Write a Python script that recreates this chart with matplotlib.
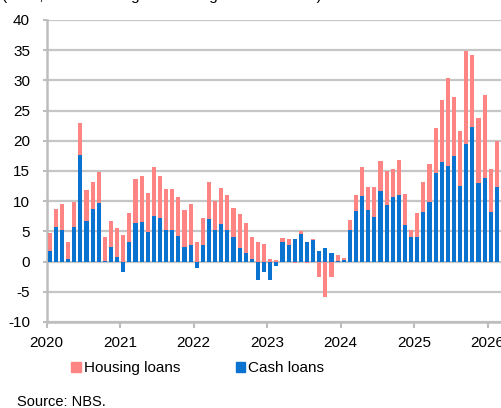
import matplotlib
matplotlib.use("Agg")
import matplotlib.pyplot as plt
from matplotlib.patches import Patch
import numpy as np

plt.rcParams['font.family'] = ['Liberation Sans', 'DejaVu Sans']
plt.rcParams['axes.unicode_minus'] = False

years = ["2020", "2021", "2022", "2023", "2024", "2025", "2026"]

# monthly contributions, Jan 2020 - Feb 2026
cash_loans = [
    1.8, 5.8, 5.3, 0.5, 5.8, 17.6, 6.7, 8.7, 9.7, 0.1, 2.4, 0.7,
    -1.7, 3.3, 6.4, 6.6, 4.9, 7.5, 7.2, 5.3, 5.3, 4.2, 2.4, 2.7,
    -1.1, 2.8, 7.1, 5.2, 6.2, 5.3, 4.0, 2.2, 1.4, 0.4, -3.1, -1.8,
    -3.1, -0.7, 3.2, 2.7, 3.7, 4.6, 3.2, 3.5, 1.8, 2.2, 1.4, 0.1,
    0.2, 5.2, 8.4, 10.8, 8.5, 7.4, 11.7, 9.4, 10.7, 11.1, 6.1, 4.1,
    4.1, 8.2, 9.9, 14.6, 16.5, 15.8, 17.5, 12.5, 19.4, 22.3, 13.0, 13.8,
    8.2, 12.3,
]
housing_loans = [
    2.9, 2.9, 4.2, 2.7, 4.1, 5.3, 5.1, 4.5, 5.2, 3.9, 4.4, 4.9,
    4.4, 4.7, 7.2, 7.5, 6.4, 8.1, 6.9, 6.7, 6.8, 6.5, 6.2, 6.9,
    3.3, 4.5, 6.1, 4.8, 6.0, 5.7, 4.9, 5.7, 5.0, 3.7, 3.2, 2.9,
    0.5, 0.3, 0.7, 1.1, -0.3, 0.4, -0.3, 0.3, -2.6, -5.8, -2.5, 1.0,
    0.35, 1.7, 2.6, 4.8, 3.8, 5.0, 4.9, 5.6, 4.7, 5.7, 5.1, 1.2,
    4.0, 5.0, 6.3, 7.6, 10.2, 14.6, 9.8, 9.2, 15.4, 11.9, 10.8, 13.7,
    7.2, 7.7,
]

blue = "#0a72cf"
pink = "#ff8585"

cash = np.array(cash_loans)
house = np.array(housing_loans)
x = np.arange(len(cash)) + 0.5

# stack positives on positives and negatives on negatives
pos_base = np.where(cash > 0, cash, 0)
neg_base = np.where(cash < 0, cash, 0)
house_bottom = np.where(house >= 0, pos_base, neg_base)

fig = plt.figure(figsize=(5.01, 4.08), dpi=100)
ax = fig.add_axes([0.0932, 0.2108, 75 * 6.125 / 501, 0.7402])

ax.bar(x, cash, width=0.68, color=blue, edgecolor="none", zorder=3)
ax.bar(x, house, width=0.68, bottom=house_bottom, color=pink,
       edgecolor="none", zorder=3)

ax.set_xlim(0, 75)
ax.set_ylim(-10, 40)
ax.set_yticks(np.arange(-10, 41, 5))
ax.set_xticks(np.arange(len(years)) * 12)
ax.set_xticklabels(years)

ax.grid(axis="y", color="#c6c6c6", lw=1.6, zorder=0)
for s in ["top", "right"]:
    ax.spines[s].set_visible(False)
for s in ["left", "bottom"]:
    ax.spines[s].set_color("#bdbdbd")
    ax.spines[s].set_linewidth(1.8)
ax.tick_params(axis="y", length=3, width=1.5, color="#bdbdbd", pad=9,
               labelsize=11)
ax.tick_params(axis="x", length=4, width=1.5, color="#bdbdbd", pad=6,
               labelsize=11)

handles = [Patch(color=pink, label="Housing loans"),
           Patch(color=blue, label="Cash loans")]
fig.legend(handles=handles, loc="center left", bbox_to_anchor=(0.115, 0.097),
           ncol=2, frameon=False, fontsize=11, handlelength=0.6,
           handleheight=0.6, handletextpad=0.2, columnspacing=3.65)

# unit line above the plot, mostly outside the canvas
fig.text(0.003, 1.0, "(EUR, annual change in lending to households)",
         fontsize=11, va="baseline")

fig.text(0.034, 0.006, "Source: NBS.", fontsize=10.5, va="baseline")

fig.savefig("out.png", dpi=100)
